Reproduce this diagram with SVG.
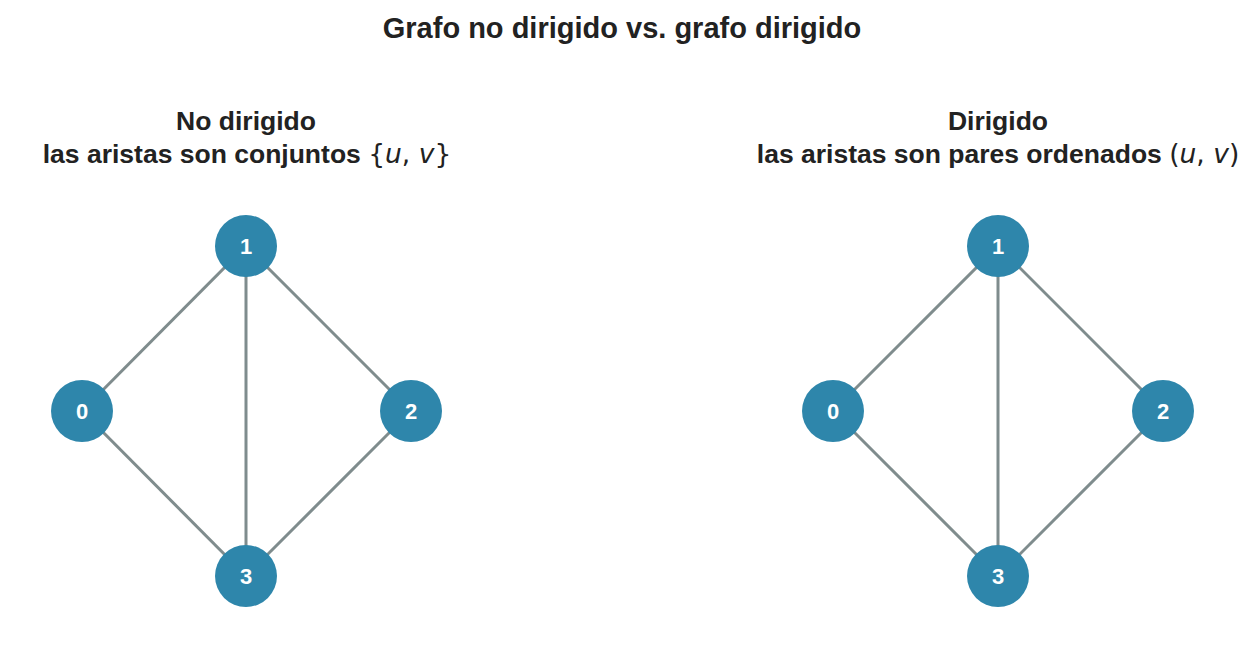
<svg xmlns="http://www.w3.org/2000/svg" width="1254" height="658" viewBox="0 0 1254 658">
<style>
.bg{fill:#ffffff}
.title{font-family:"Liberation Sans",Arial,sans-serif;font-weight:bold;fill:#222222;text-anchor:middle}
.math{font-family:"DejaVu Sans",sans-serif;font-weight:normal}
.edge{stroke:#7f8c8d;stroke-width:3;fill:none}
.node circle{fill:#2e86ab}
.node text{font-family:"Liberation Sans",Arial,sans-serif;font-weight:bold;font-size:22px;fill:#ffffff;text-anchor:middle;dominant-baseline:central}
</style>
<rect class="bg" x="0" y="0" width="1254" height="658"/>
<text class="title" x="622" y="38" font-size="29">Grafo no dirigido vs. grafo dirigido</text>
<text class="title" x="246" y="130" font-size="26.5">No dirigido</text>
<text class="title" x="247" y="163" font-size="26.5">las aristas son conjuntos <tspan class="math">{<tspan font-style="italic">u</tspan>, <tspan font-style="italic">v</tspan>}</tspan></text>
<text class="title" x="998" y="130" font-size="26.5">Dirigido</text>
<text class="title" x="998" y="163" font-size="26.5">las aristas son pares ordenados <tspan class="math">(<tspan font-style="italic">u</tspan>, <tspan font-style="italic">v</tspan>)</tspan></text>
<g id="connectors">
<line class="edge" x1="82" y1="411" x2="246" y2="246"/>
<line class="edge" x1="246" y1="246" x2="411" y2="411"/>
<line class="edge" x1="246" y1="246" x2="246" y2="576"/>
<line class="edge" x1="82" y1="411" x2="246" y2="576"/>
<line class="edge" x1="411" y1="411" x2="246" y2="576"/>
<line class="edge" x1="833" y1="411" x2="998" y2="246"/>
<line class="edge" x1="998" y1="246" x2="1163" y2="411"/>
<line class="edge" x1="998" y1="246" x2="998" y2="576"/>
<line class="edge" x1="833" y1="411" x2="998" y2="576"/>
<line class="edge" x1="1163" y1="411" x2="998" y2="576"/>
</g>
<g id="u1" class="node"><circle cx="246" cy="246" r="31"/><text x="246" y="246">1</text></g>
<g id="u0" class="node"><circle cx="82" cy="411" r="31"/><text x="82" y="411">0</text></g>
<g id="u2" class="node"><circle cx="411" cy="411" r="31"/><text x="411" y="411">2</text></g>
<g id="u3" class="node"><circle cx="246" cy="576" r="31"/><text x="246" y="576">3</text></g>
<g id="d1" class="node"><circle cx="998" cy="246" r="31"/><text x="998" y="246">1</text></g>
<g id="d0" class="node"><circle cx="833" cy="411" r="31"/><text x="833" y="411">0</text></g>
<g id="d2" class="node"><circle cx="1163" cy="411" r="31"/><text x="1163" y="411">2</text></g>
<g id="d3" class="node"><circle cx="998" cy="576" r="31"/><text x="998" y="576">3</text></g>
</svg>
